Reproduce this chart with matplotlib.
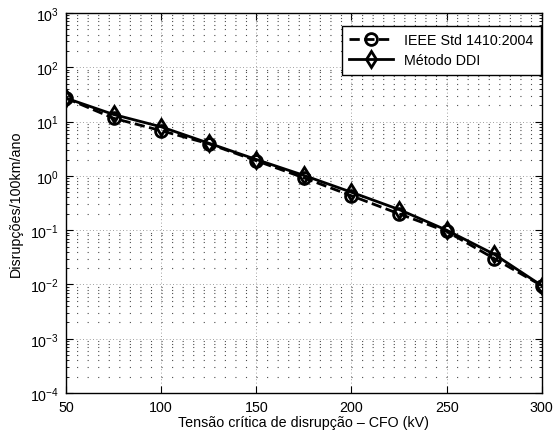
import matplotlib
matplotlib.use('Agg')
import matplotlib.pyplot as plt
from matplotlib.ticker import MultipleLocator, LogLocator, NullFormatter, NullLocator

plt.rcParams['font.family'] = ['Liberation Sans', 'DejaVu Sans']
plt.rcParams['mathtext.fontset'] = 'custom'
plt.rcParams['mathtext.rm'] = 'Liberation Sans'

cfo = [50, 75, 100, 125, 150, 175, 200, 225, 250, 275, 300]
ieee = [27, 11.5, 6.8, 3.9, 1.9, 0.92, 0.43, 0.2, 0.095, 0.03, 0.0095]
ddi = [27, 13.5, 8.0, 4.0, 2.0, 1.02, 0.5, 0.24, 0.1, 0.036, 0.0095]

fs = 10.3

fig = plt.figure(figsize=(5.54, 4.35), dpi=100)
ax = fig.add_axes([0.119, 0.094, 0.859, 0.874])

ax.semilogy(cfo, ieee, 'k--', lw=2, marker='o', ms=8.5, mfc='none', mew=2,
            label='IEEE Std 1410:2004')
ax.semilogy(cfo, ddi, 'k-', lw=2, marker='d', ms=8.5, mfc='none', mew=2,
            label='Método DDI')

ax.set_xlim(50, 300)
ax.set_ylim(1e-4, 1e3)
ax.xaxis.set_major_locator(MultipleLocator(50))
ax.xaxis.set_minor_locator(NullLocator())
ax.yaxis.set_major_locator(LogLocator(base=10, numticks=10))
ax.yaxis.set_minor_locator(LogLocator(base=10, subs=range(2, 10), numticks=20))
ax.yaxis.set_minor_formatter(NullFormatter())

# grid pontilhada estilo matlab
ax.grid(True, which='major', ls=(0, (1, 3)), color='0.5', lw=0.6)
ax.yaxis.grid(True, which='minor', ls=(0, (1, 8.5)), color='0.3', lw=0.8)
ax.tick_params(which='both', direction='in', top=True, right=True, labelsize=fs)
ax.tick_params(which='major', length=5, pad=5)
ax.tick_params(which='minor', length=2.5)
for s in ax.spines.values():
    s.set_linewidth(1.0)

ax.set_xlabel('Tensão crítica de disrupção – CFO (kV)', fontsize=fs, labelpad=1)
ax.set_ylabel('Disrupções/100km/ano', fontsize=fs, labelpad=5)

leg = ax.legend(loc='upper right', bbox_to_anchor=(0.998, 0.966), borderaxespad=0,
                fontsize=fs, fancybox=False, framealpha=1, edgecolor='k',
                handlelength=3.1, borderpad=0.5, labelspacing=0.45)
leg.get_frame().set_linewidth(1.0)

fig.savefig('out.png', dpi=100)
